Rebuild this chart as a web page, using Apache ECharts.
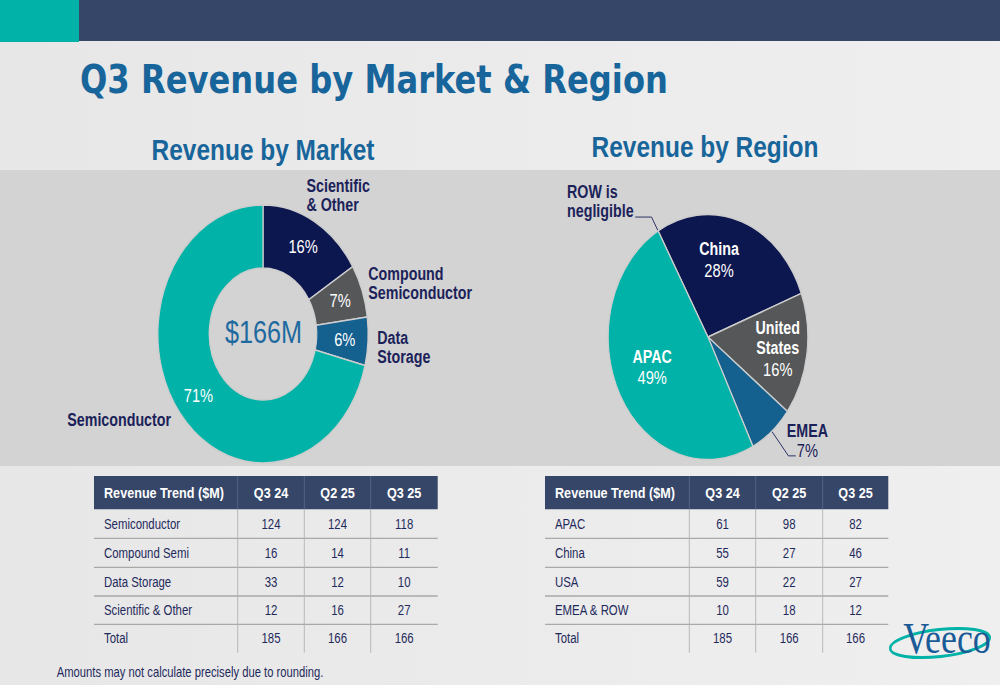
<!DOCTYPE html>
<html><head><meta charset="utf-8">
<script src="https://cdn.jsdelivr.net/npm/echarts@6/dist/echarts.min.js"></script>
<style>
html,body{margin:0;padding:0;width:1000px;height:685px;overflow:hidden;background:#eaeaea;}
#wrap{width:1227px;height:685px;transform:scaleX(0.815);transform-origin:0 0;}
#chart{width:1227px;height:685px;}
</style></head><body>
<div id="wrap"><div id="chart"></div></div>
<script>
// ---------------- data ----------------
const quarters = ['Q3 24', 'Q2 25', 'Q3 25'];
const marketNames = ['Semiconductor', 'Compound Semi', 'Data Storage', 'Scientific & Other'];
const marketQ324 = [124, 16, 33, 12];
const marketQ225 = [124, 14, 12, 16];
const marketQ325 = [118, 11, 10, 27];
const marketTotals = [185, 166, 166];

const regionNames = ['APAC', 'China', 'USA', 'EMEA & ROW'];
const regionQ324 = [61, 55, 59, 10];
const regionQ225 = [98, 27, 22, 18];
const regionQ325 = [82, 46, 27, 12];
const regionTotals = [185, 166, 166];

// pie slices (clockwise from the top) -> index into the table rows
const marketPieLabels = ['Scientific\n& Other', 'Compound\nSemiconductor', 'Data\nStorage', 'Semiconductor'];
const marketPieOrder = [3, 1, 2, 0];
const regionPieLabels = ['China', 'United\nStates', 'EMEA', 'APAC'];
const regionPieOrder = [1, 2, 3, 0];
const rowLabel = 'ROW is\nnegligible';
const rowValue = 0;

const titleText = 'Q3 Revenue by Market & Region';
const subMarket = 'Revenue by Market';
const subRegion = 'Revenue by Region';
const tableHead = 'Revenue Trend ($M)';
const footnote = 'Amounts may not calculate precisely due to rounding.';

// ---------------- styling / layout ----------------
const S = 0.815;
const X = v => v / S;
const SANS = "'Liberation Sans', Arial, sans-serif";
const NAVY = '#0d174f', GREY = '#555759', BLUE = '#14608f', TEAL = '#00b2a7';
const TXT = '#1b2259', TITLE = '#17659a', CELL = '#1f2a5c';
const marketColors = [NAVY, GREY, BLUE, TEAL];
const regionColors = [NAVY, GREY, BLUE, TEAL];

const G = [];
function rect(x, y, w, h, fill) { G.push({type: 'rect', silent: true, shape: {x: X(x), y: y, width: X(w), height: h}, style: {fill: fill}}); }
function text(x, y, str, font, fill, align, va) { G.push({type: 'text', silent: true, x: X(x), y: y, style: {text: str, font: font, fill: fill, align: align || 'left', verticalAlign: va || 'middle'}}); }
function line(x1, y1, x2, y2, stroke, lw) { G.push({type: 'line', silent: true, shape: {x1: X(x1), y1: y1, x2: X(x2), y2: y2}, style: {stroke: stroke, lineWidth: lw}}); }

// header bar
rect(79, 0, 921, 41, '#364668');
rect(0, 0, 79, 42, '#00b2a7');
// grey band
rect(0, 170, 1000, 296, '#d3d3d3');
// titles
text(80, 79, titleText, "bold 39.5px 'DejaVu Sans', sans-serif", TITLE);
text(263, 150, subMarket, 'bold 30px ' + SANS, TITLE, 'center');
text(705, 147, subRegion, 'bold 30px ' + SANS, TITLE, 'center');
// donut center
text(263.5, 332, '$' + marketTotals[2] + 'M', '31px ' + SANS, '#1e6aa0', 'center');

// tables
const rowY = [509.3, 538.3, 567.3, 596, 624.3, 652.7];
function drawTable(cx, names, c1, c2, c3, totals) {
  const top = 476;
  rect(cx[0], top, cx[4] - cx[0], rowY[0] - top, '#364668');
  for (let k = 1; k < 4; k++) line(cx[k], top, cx[k], rowY[0], '#56668a', 1);
  const hy = (top + rowY[0]) / 2;
  text(cx[0] + 10, hy, tableHead, 'bold 15.5px ' + SANS, '#ffffff');
  for (let k = 0; k < 3; k++) text((cx[k + 1] + cx[k + 2]) / 2, hy, quarters[k], 'bold 15.5px ' + SANS, '#ffffff', 'center');
  for (let r = 1; r < 5; r++) line(cx[0], rowY[r], cx[4], rowY[r], '#a9a9a9', 1.3);
  for (let k = 1; k < 4; k++) line(cx[k], rowY[0], cx[k], rowY[5], '#b3b3b3', 1);
  const rows = names.map((n, i) => [n, c1[i], c2[i], c3[i]]).concat([['Total'].concat(totals)]);
  rows.forEach((row, r) => {
    const y = (rowY[r] + rowY[r + 1]) / 2;
    text(cx[0] + 10, y, row[0], '14px ' + SANS, CELL);
    for (let k = 1; k < 4; k++) text((cx[k] + cx[k + 1]) / 2, y, String(row[k]), '14px ' + SANS, CELL, 'center');
  });
}
drawTable([94, 237.7, 304.3, 370.7, 437.7], marketNames, marketQ324, marketQ225, marketQ325, marketTotals);
drawTable([545, 689.3, 755.7, 822.7, 888.3], regionNames, regionQ324, regionQ225, regionQ325, regionTotals);

// footnote
text(56.7, 673, footnote, '13.8px ' + SANS, CELL);

// logo
G.push({type: 'ellipse', silent: true, x: X(940), y: 643, rotation: 0.09,
  shape: {cx: 0, cy: 0, rx: X(50), ry: 13.5}, style: {fill: 'none', stroke: '#00b2a7', lineWidth: 3}});
text(947, 638, 'Veeco', "44px 'Liberation Serif', serif", '#1a5a96', 'center');

// ---------------- series ----------------
const donutData = marketPieOrder.map((i, k) => ({name: marketPieLabels[k], value: marketQ325[i], itemStyle: {color: marketColors[k]}}));
const donutNamePos = [[306.5, 176], [368.3, 264.5], [377.3, 328], [67.3, 410]];
const regionLabelOffset = [[-8, -16], [22, 3], null, [-12, 0]];

const regionData = [{
  name: rowLabel, value: rowValue, kind: 'note',
  itemStyle: {color: 'rgba(0,0,0,0)', borderWidth: 0},
  label: {position: 'outside', color: TXT, padding: [0, 0, 32, 0], distanceToLabelLine: 2},
  labelLine: {show: true, length: 16, length2: 20, lineStyle: {color: TXT, width: 1}}
}].concat(regionPieOrder.map((i, k) => {
  const d = {name: regionPieLabels[k], value: regionQ325[i], itemStyle: {color: regionColors[k]}};
  if (regionLabelOffset[k]) {
    d.kind = 'inside';
    d.label = {offset: regionLabelOffset[k]};
  } else {
    d.kind = 'outer';
    d.label = {position: 'outside', color: TXT, padding: [0, 0, 30, 0], distanceToLabelLine: -11};
    d.labelLine = {show: true, length: 32, length2: 9, lineStyle: {color: TXT, width: 1}};
  }
  return d;
}));

function regionFormatter(p) {
  const lines = p.name.split('\n');
  if (p.data.kind === 'note') return lines.map(s => '{l|' + s + '}').join('\n');
  if (p.data.kind === 'outer') return lines.map(s => '{c|' + s + '}').join('\n') + '\n{q|' + p.percent + '%}';
  return lines.map(s => '{n|' + s + '}').join('\n') + '\n{p|' + p.percent + '%}';
}

const option = {
  animation: false,
  backgroundColor: {type: 'linear', x: 0, y: 0, x2: 1, y2: 0, colorStops: [{offset: 0, color: '#e7e7e7'}, {offset: 1, color: '#efefef'}]},
  graphic: {elements: G},
  series: [
    {
      type: 'pie', center: [X(263), 334], radius: [66, 129], startAngle: 90, clockwise: true,
      percentPrecision: 0, silent: true, emphasis: {disabled: true},
      data: donutData,
      itemStyle: {borderColor: '#cdcdcd', borderWidth: 1.5},
      label: {show: true, position: 'inside', formatter: '{d}%', color: '#ffffff', fontSize: 18, fontFamily: SANS},
      labelLine: {show: false}
    },
    {
      type: 'pie', center: [X(263), 334], radius: [66, 129], startAngle: 90, clockwise: true,
      silent: true, emphasis: {disabled: true}, z: 3,
      data: donutData.map(d => ({name: d.name, value: d.value})),
      itemStyle: {color: 'rgba(0,0,0,0)', borderWidth: 0},
      label: {show: true, position: 'outside', formatter: '{b}', color: TXT, fontWeight: 'bold', fontSize: 17.5, lineHeight: 19, fontFamily: SANS},
      labelLine: {show: false},
      labelLayout: function (p) {
        const pos = donutNamePos[p.dataIndex];
        return {x: X(pos[0]), y: pos[1], align: 'left', verticalAlign: 'top'};
      }
    },
    {
      type: 'pie', center: [X(708), 337], radius: [0, 122.5], startAngle: 120, clockwise: true,
      percentPrecision: 0, silent: true, emphasis: {disabled: true},
      data: regionData,
      itemStyle: {borderColor: '#cdcdcd', borderWidth: 1.5},
      label: {
        show: true, position: 'inside', color: '#ffffff', fontFamily: SANS,
        formatter: regionFormatter,
        rich: {
          n: {fontWeight: 'bold', fontSize: 17.5, lineHeight: 20, fontFamily: SANS},
          p: {fontSize: 18, lineHeight: 22, fontFamily: SANS},
          l: {fontWeight: 'bold', fontSize: 17.5, lineHeight: 19, fontFamily: SANS, align: 'left'},
          c: {fontWeight: 'bold', fontSize: 17.5, lineHeight: 19, fontFamily: SANS, align: 'center'},
          q: {fontSize: 18, lineHeight: 20, fontFamily: SANS, align: 'center'}
        }
      },
      labelLine: {show: false}
    }
  ]
};
const chart = echarts.init(document.getElementById('chart'), null, {renderer: 'svg', width: 1227, height: 685});
chart.setOption(option);
</script>
</body></html>
